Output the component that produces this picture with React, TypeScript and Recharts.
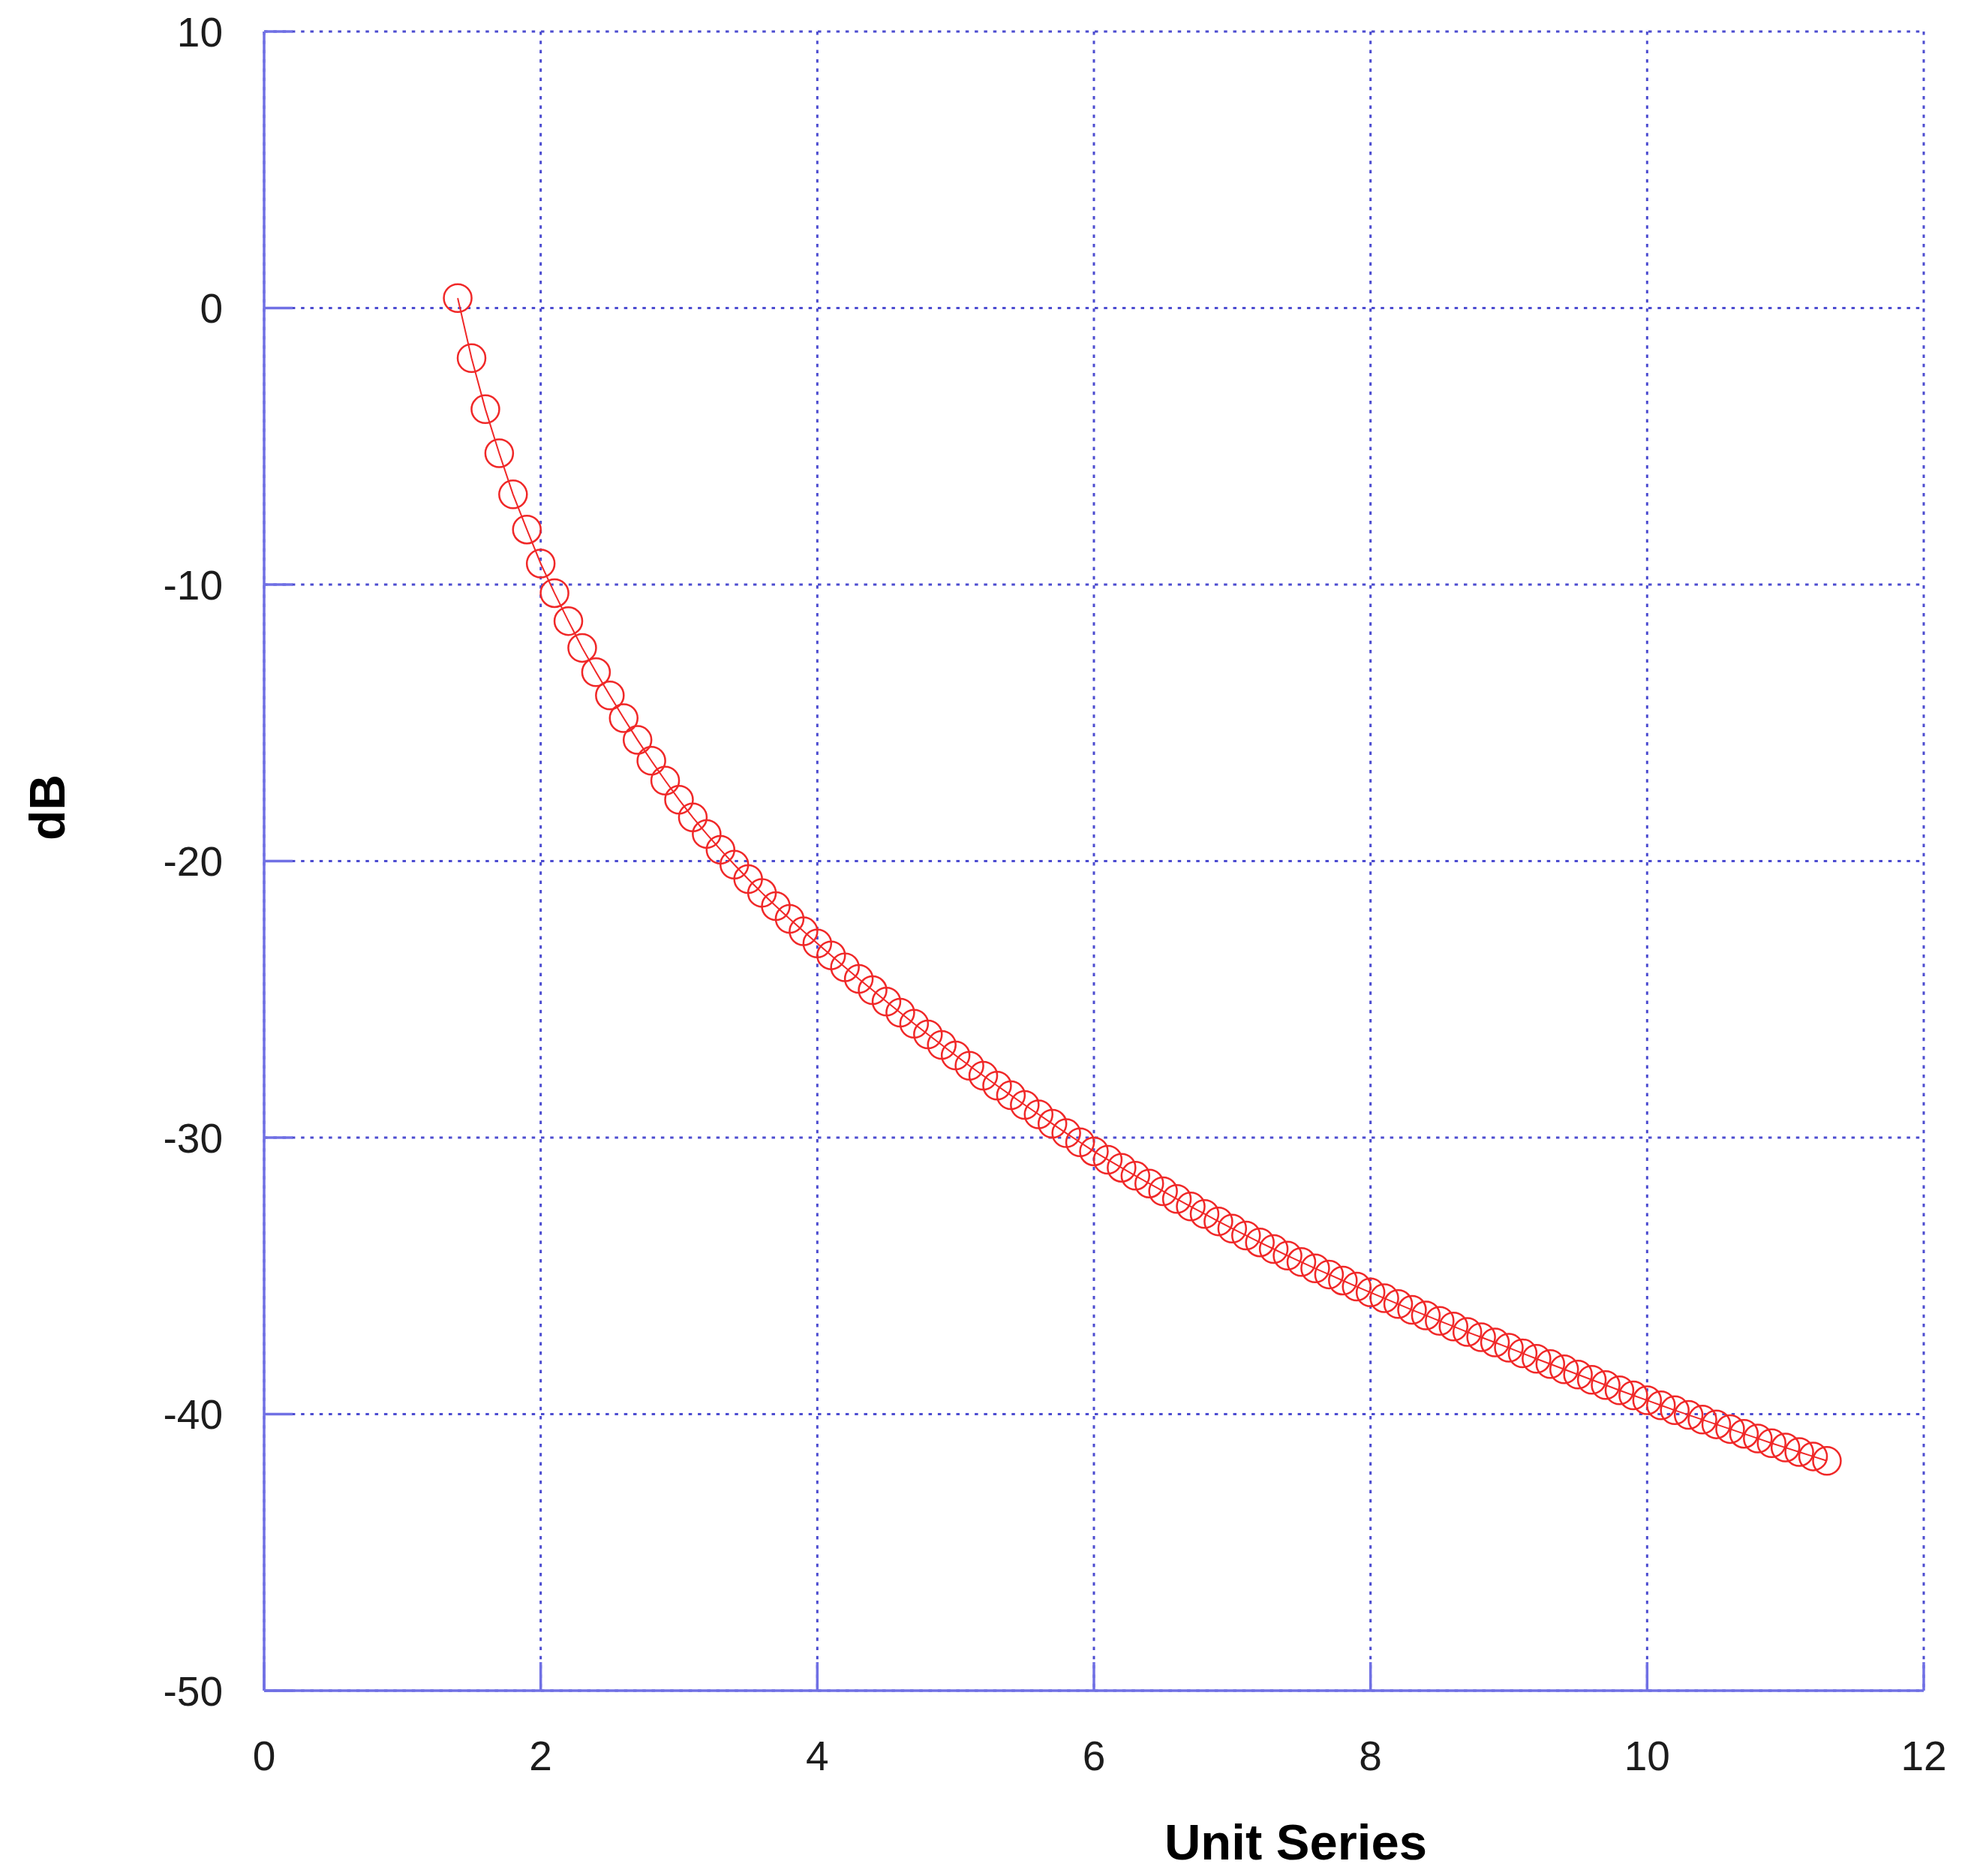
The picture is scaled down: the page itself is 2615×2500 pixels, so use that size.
import React from 'react'
import { LineChart, Line, XAxis, YAxis, CartesianGrid, Label } from 'recharts'

const xValues = [
  1.4, 1.5, 1.6, 1.7, 1.8, 1.9, 2.0, 2.1, 2.2, 2.3,
  2.4, 2.5, 2.6, 2.7, 2.8, 2.9, 3.0, 3.1, 3.2, 3.3,
  3.4, 3.5, 3.6, 3.7, 3.8, 3.9, 4.0, 4.1, 4.2, 4.3,
  4.4, 4.5, 4.6, 4.7, 4.8, 4.9, 5.0, 5.1, 5.2, 5.3,
  5.4, 5.5, 5.6, 5.7, 5.8, 5.9, 6.0, 6.1, 6.2, 6.3,
  6.4, 6.5, 6.6, 6.7, 6.8, 6.9, 7.0, 7.1, 7.2, 7.3,
  7.4, 7.5, 7.6, 7.7, 7.8, 7.9, 8.0, 8.1, 8.2, 8.3,
  8.4, 8.5, 8.6, 8.7, 8.8, 8.9, 9.0, 9.1, 9.2, 9.3,
  9.4, 9.5, 9.6, 9.7, 9.8, 9.9, 10.0, 10.1, 10.2, 10.3,
  10.4, 10.5, 10.6, 10.7, 10.8, 10.9, 11.0, 11.1, 11.2, 11.3,
]

const dbValues = [
  0.36, -1.81, -3.66, -5.25, -6.74, -8.01, -9.24, -10.31, -11.32, -12.29,
  -13.17, -14.01, -14.83, -15.62, -16.37, -17.09, -17.78, -18.42, -19.02, -19.59,
  -20.13, -20.65, -21.15, -21.63, -22.09, -22.54, -22.98, -23.41, -23.84, -24.26,
  -24.67, -25.08, -25.48, -25.88, -26.27, -26.65, -27.03, -27.4, -27.76, -28.12,
  -28.47, -28.82, -29.16, -29.5, -29.84, -30.17, -30.5, -30.8, -31.09, -31.38,
  -31.66, -31.94, -32.22, -32.49, -32.76, -33.03, -33.29, -33.54, -33.79, -34.03,
  -34.27, -34.5, -34.73, -34.95, -35.17, -35.39, -35.6, -35.81, -36.02, -36.23,
  -36.43, -36.63, -36.83, -37.03, -37.22, -37.41, -37.6, -37.8, -38.0, -38.19,
  -38.38, -38.57, -38.76, -38.95, -39.14, -39.32, -39.5, -39.68, -39.86, -40.03,
  -40.2, -40.37, -40.54, -40.71, -40.88, -41.05, -41.21, -41.37, -41.53, -41.69,
]

const xTicks = [0, 2, 4, 6, 8, 10, 12]
const yTicks = [10, 0, -10, -20, -30, -40, -50]

const data = xValues.map((x, i) => ({ x, db: dbValues[i] }))

const FONT = '"Liberation Sans", Arial, Helvetica, sans-serif'
const FRAME = '#7070e4'
const GRID = '#4c4cd0'
const RED = '#f02828'

const tickStyle = { fontFamily: FONT, fontSize: 55, fill: '#1c1c1c' }
const frameLine = { stroke: FRAME, strokeWidth: 3.5 }
const tickMark = { stroke: FRAME, strokeWidth: 3.5 }

// axis titles are placed by hand to sit where the reference has them
const XTitle = (props: any) => {
  const { viewBox } = props
  const cx = viewBox.x + viewBox.width * 0.6216
  return (
    <text x={cx} y={viewBox.y + 225} textAnchor="middle"
      style={{ fontFamily: FONT, fontSize: 67, fontWeight: 'bold', fill: '#000' }}>
      Unit Series
    </text>
  )
}

const YTitle = () => {
  const x = 86
  const y = 1076
  return (
    <text x={x} y={y} textAnchor="middle" transform={`rotate(-90 ${x} ${y})`}
      style={{ fontFamily: FONT, fontSize: 66, fontWeight: 'bold', fill: '#000' }}>
      dB
    </text>
  )
}

export default function App() {
  return (
    <div style={{ position: 'absolute', top: 0, left: 0, width: 2615, height: 2500, background: '#fff' }}>
      <LineChart width={2615} height={2500} data={data}
        margin={{ top: 42, right: 51, bottom: 47, left: 0 }}>
        <CartesianGrid stroke={GRID} strokeWidth={3} strokeDasharray="4.5 7.8" />
        <XAxis dataKey="x" type="number" domain={[0, 12]} ticks={xTicks} height={200}
          allowDataOverflow interval={0}
          axisLine={frameLine} tickLine={tickMark}
          tickSize={-38} tickMargin={105} tick={tickStyle}>
          <Label content={<XTitle />} />
        </XAxis>
        {/* mirrored axes give the frame and the inward ticks on top/right */}
        <XAxis xAxisId="top" orientation="top" dataKey="x" type="number" domain={[0, 12]}
          ticks={xTicks} height={0} allowDataOverflow interval={0}
          axisLine={frameLine} tickLine={tickMark}
          tickSize={-38} tick={false} />
        <YAxis type="number" domain={[-50, 10]} ticks={yTicks} width={352}
          allowDataOverflow interval={0}
          axisLine={frameLine} tickLine={tickMark}
          tickSize={-38} tickMargin={93} tick={tickStyle}>
          <Label content={<YTitle />} />
        </YAxis>
        <YAxis yAxisId="right" orientation="right" type="number" domain={[-50, 10]}
          ticks={yTicks} width={0} allowDataOverflow interval={0}
          axisLine={frameLine} tickLine={tickMark}
          tickSize={-38} tick={false} />
        <Line dataKey="db" type="linear" stroke={RED} strokeWidth={2}
          dot={{ r: 18.5, fill: 'none', stroke: RED, strokeWidth: 2.5 }}
          activeDot={false} isAnimationActive={false} />
      </LineChart>
    </div>
  )
}
